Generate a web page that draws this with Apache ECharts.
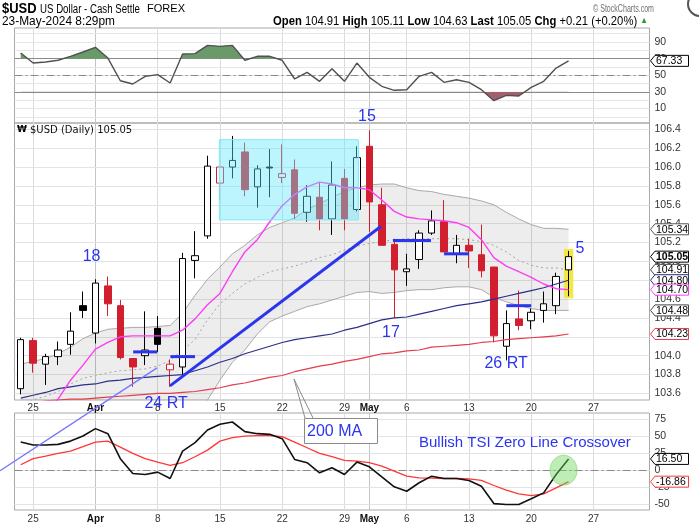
<!DOCTYPE html>
<html><head><meta charset="utf-8">
<script src="https://cdn.jsdelivr.net/npm/echarts@6/dist/echarts.min.js"></script>
<style>html,body{margin:0;padding:0;background:#fff}#c{width:699px;height:526px}</style>
</head><body><div id="c"></div>
<script>
// ---------- DATA ----------
const dates = ['Mar 22','Mar 25','Mar 26','Mar 27','Mar 28','Mar 29','Apr 1','Apr 2','Apr 3','Apr 4','Apr 5','Apr 8','Apr 9','Apr 10','Apr 11','Apr 12','Apr 15','Apr 16','Apr 17','Apr 18','Apr 19','Apr 22','Apr 23','Apr 24','Apr 25','Apr 26','Apr 29','Apr 30','May 1','May 2','May 3','May 6','May 7','May 8','May 9','May 10','May 13','May 14','May 15','May 16','May 17','May 20','May 21','May 22','May 23','May 24','May 27','May 28','May 29','May 30','May 31'];
const labelIdx  = [1,6,11,16,21,26,28,31,36,41,46];
const labelText = ['25','Apr','8','15','22','29','May','6','13','20','27'];
const monthIdx  = [6,28];

const open  = [103.65,104.16,103.91,103.99,104.12,104.53,104.24,104.74,104.53,103.97,104.00,104.29,103.85,103.88,105.01,105.27,105.83,106.00,106.16,105.79,106.00,105.89,105.97,105.52,105.68,105.45,105.88,105.55,106.22,105.60,105.18,104.89,105.02,105.30,105.42,105.08,105.17,105.07,104.94,104.10,104.39,104.37,104.48,104.53,104.91];
const high  = [104.19,104.19,104.02,104.15,104.46,104.68,104.81,104.84,104.59,103.97,104.47,104.42,103.96,105.09,105.32,106.12,106.00,106.33,106.26,106.02,106.19,106.24,106.08,105.81,105.84,106.06,105.98,106.22,106.39,105.78,105.24,105.08,105.33,105.54,105.65,105.28,105.24,105.39,104.94,104.48,104.69,104.50,104.68,104.88,105.11];
const low   = [103.59,103.82,103.69,103.90,104.01,104.40,104.13,104.42,103.96,103.67,103.90,104.04,103.67,103.79,104.82,105.24,105.65,105.88,105.69,105.57,105.68,105.83,105.45,105.42,105.33,105.28,105.33,105.53,105.31,105.17,104.40,104.74,104.92,105.28,105.10,104.98,104.93,104.83,104.14,103.95,104.27,104.28,104.35,104.44,104.63];
const close = [104.17,103.92,103.99,104.06,104.26,104.48,104.77,104.55,103.98,103.88,104.06,104.12,103.91,105.03,105.06,106.01,106.00,106.07,105.76,105.98,105.99,105.93,105.51,105.69,105.45,105.81,105.45,106.10,105.63,105.17,104.91,104.92,105.30,105.43,105.10,105.17,105.11,104.90,104.21,104.34,104.32,104.46,104.55,104.84,105.05];

const bbUpper = [103.91,103.94,103.97,104.02,104.09,104.18,104.24,104.28,104.29,104.30,104.30,104.31,104.32,104.45,104.64,104.81,104.94,105.08,105.17,105.28,105.36,105.41,105.46,105.55,105.61,105.68,105.74,105.78,105.81,105.82,105.82,105.78,105.75,105.74,105.71,105.69,105.67,105.64,105.60,105.52,105.45,105.39,105.35,105.35,105.34];
const bbMid   = [103.48,103.53,103.57,103.62,103.70,103.76,103.79,103.82,103.84,103.85,103.86,103.89,103.95,104.06,104.17,104.38,104.55,104.66,104.76,104.83,104.89,104.92,104.95,104.99,105.04,105.07,105.12,105.16,105.19,105.21,105.23,105.24,105.24,105.24,105.24,105.24,105.23,105.21,105.17,105.10,105.01,104.96,104.93,104.93,104.91];
const bbLower = [103.05,103.12,103.17,103.22,103.31,103.34,103.34,103.36,103.39,103.40,103.42,103.47,103.45,103.40,103.38,103.53,103.74,103.93,104.06,104.23,104.36,104.42,104.47,104.52,104.55,104.59,104.63,104.67,104.68,104.66,104.67,104.69,104.70,104.70,104.72,104.73,104.73,104.70,104.62,104.57,104.53,104.50,104.48,104.48,104.48];
const maShort = [103.12,103.25,103.38,103.54,103.74,103.90,104.07,104.14,104.20,104.21,104.21,104.21,104.21,104.27,104.39,104.54,104.66,104.89,105.10,105.23,105.42,105.59,105.71,105.79,105.84,105.82,105.78,105.78,105.76,105.65,105.53,105.47,105.45,105.44,105.43,105.41,105.36,105.23,105.04,104.95,104.89,104.83,104.76,104.71,104.70];
const ma50  = [103.55,103.58,103.61,103.65,103.67,103.69,103.70,103.73,103.74,103.76,103.77,103.78,103.79,103.80,103.84,103.88,103.93,103.97,104.02,104.06,104.10,104.14,104.17,104.19,104.21,104.23,104.27,104.30,104.34,104.38,104.40,104.41,104.44,104.47,104.50,104.53,104.55,104.57,104.60,104.63,104.66,104.69,104.72,104.76,104.80];
const ma200 = [103.49,103.50,103.52,103.53,103.54,103.54,103.55,103.56,103.57,103.58,103.59,103.60,103.60,103.61,103.62,103.64,103.66,103.69,103.71,103.74,103.77,103.79,103.83,103.86,103.89,103.91,103.94,103.96,103.99,104.02,104.03,104.05,104.06,104.09,104.10,104.11,104.12,104.14,104.15,104.17,104.18,104.19,104.20,104.21,104.23];

const rsi = [76.8,64.7,66,68,72.8,78,83.6,70.7,43.4,39.5,48.7,50.7,40.7,75.6,76,86,84.8,86,68,72.8,72.8,68,45.5,53.5,42.7,57.9,42.7,64.7,47.5,36.7,31.9,32.5,48.7,53.5,41.5,44.6,41.5,32.6,19.4,25.8,25.0,35.5,42.7,58.7,67.33];
const tsi = [41.2,36.8,36.8,37.8,42.6,50,60.9,53.5,16.8,-4.9,-6.3,-2.9,-12.2,27.9,40.3,58.8,67.2,70.6,56.5,53.5,52.5,46.2,15.7,10.9,-3.8,3.5,-6.3,11.8,5,-9.7,-24.4,-30.9,-18.5,-8.8,-12.2,-12.2,-15.1,-23.5,-49,-50.4,-50.4,-42,-33.3,-6.3,16.5];
const tsiSignal = [7.9,16.8,20.6,24.6,27.9,34.4,41.2,42.6,33.8,24.6,16.8,11.8,6.9,10.9,19.7,29.4,42.6,47.6,50,50.6,50.6,49.1,41.2,32.9,24.6,19.7,14.3,13.2,10.9,5.9,-1.5,-8.8,-11.2,-11.7,-12.2,-12.2,-12.7,-15.1,-22.5,-29.4,-34.7,-37.2,-34.7,-25.9,-16.86];

const priceTicks = [103.6,103.8,104.0,104.2,104.4,104.6,104.8,105.0,105.2,105.4,105.6,105.8,106.0,106.2,106.4];
const rsiTicks = [10,30,50,70,90];
const rsiGridTicks = [0,10,20,30,40,50,60,70,80,90,100];
const tsiTicks = [-50,-25,0,25,50,75];

// ---------- STYLE ----------
const FS = "'Liberation Sans',Arial,sans-serif";
const BLUE = '#2b35ee';
const GL = 14.5, GR = 49.5;

const chart = echarts.init(document.getElementById('c'));

function xAx(gi, labels){
  return {type:'category', gridIndex:gi, data:dates, boundaryGap:true,
    axisLine:{show:false}, axisTick:{show:false}, splitLine:{show:false},
    axisLabel: labels ? {show:true, interval:0, margin: gi===1?3:4, color:'#333', fontSize:10, fontFamily:FS,
      formatter:(v,i)=>{const k=labelIdx.indexOf(i); if(k<0) return ''; const t=labelText[k]; return monthIdx.includes(i)?'{b|'+t+'}':t;},
      rich:{b:{fontWeight:'bold', fontSize:10, color:'#111', fontFamily:FS}}} : {show:false}};
}
function yAx(gi, min, max, ticks, fmt){
  return {type:'value', gridIndex:gi, position:'right', min, max, scale:true,
    splitLine:{show:false}, axisLine:{show:false}, axisTick:{show:false},
    axisLabel:{customValues:ticks, formatter:fmt, color:'#333', fontSize:10.5, fontFamily:FS, margin:5}};
}
const nulls = dates.map(()=>null);
function vLines(){
  return labelIdx.map(i=>({xAxis:dates[i], lineStyle:{color: monthIdx.includes(i)?'#c4c4c4':'#dcdcdc', width:1, type:'solid'}}));
}
function host(gi, hLines){
  return {type:'line', xAxisIndex:gi, yAxisIndex:gi, data:nulls, silent:true, symbol:'none', z:0,
    markLine:{silent:true, symbol:['none','none'], label:{show:false}, z:1, animation:false,
      data: vLines().concat(hLines)}};
}
const lineS = (gi, data, color, width, z, extra)=>Object.assign({type:'line', xAxisIndex:gi, yAxisIndex:gi, data, symbol:'none', silent:true, z,
   lineStyle:{color, width}}, extra||{});

function rsiFill(level, above, color){
  return {type:'custom', xAxisIndex:0, yAxisIndex:0, data:[[0, level]], silent:true, z:1,
    renderItem:(params, api)=>{
      const pts = rsi.map((v,i)=>api.coord([i, v]));
      const yL = api.coord([0, level])[1];
      const cs = params.coordSys;
      const poly = pts.concat([[pts[pts.length-1][0], yL],[pts[0][0], yL]]);
      const clip = above ? {x:cs.x, y:cs.y, width:cs.width, height:yL-cs.y}
                         : {x:cs.x, y:yL, width:cs.width, height:cs.y+cs.height-yL};
      return {type:'polygon', shape:{points:poly}, style:{fill:color}, clipPath:{type:'rect', shape:clip}};
    }};
}

const candleData = open.map((o,i)=>{
  const c = close[i], prev = i>0 ? close[i-1] : o;
  const col = c >= prev ? '#000' : '#d21f2f';
  const st = c >= o ? {color:'#fff', color0:'#fff', borderColor:col, borderColor0:col}
                    : {color:col, color0:col, borderColor:col, borderColor0:col};
  return {value:[o, c, low[i], high[i]], itemStyle:st};
});

const series = [
  host(1, priceTicks.map(v=>({yAxis:v, lineStyle:{color:'#e3e3e3', width:1, type:'solid'}}))),
  lineS(1, bbLower, 'rgba(0,0,0,0)', 0, 1, {stack:'bb'}),
  lineS(1, bbUpper.map((u,i)=>+(u-bbLower[i]).toFixed(2)), 'rgba(0,0,0,0)', 0, 1, {stack:'bb', areaStyle:{color:'rgba(0,0,0,0.1)'}}),
  lineS(1, bbUpper, '#a9a9a9', 1, 2),
  lineS(1, bbLower, '#a9a9a9', 1, 2),
  lineS(1, bbMid, '#a5a5a5', 1, 2, {lineStyle:{color:'#a5a5a5', width:1, type:[2,3]}}),
  {type:'candlestick', xAxisIndex:1, yAxisIndex:1, data:candleData, barWidth:7, z:3, silent:true, itemStyle:{borderWidth:1}},
  lineS(1, ma200, '#e33c4d', 1.2, 4),
  lineS(1, ma50, '#2d2d8a', 1.2, 4),
  lineS(1, maShort, '#ff3cf5', 1.4, 4),
  host(0, rsiGridTicks.map(v=>({yAxis:v, lineStyle:{color:'#e6e6e6', width:1, type:'solid'}})).concat([
      {yAxis:70, lineStyle:{color:'#8a8a8a', width:1, type:'solid'}},
      {yAxis:30, lineStyle:{color:'#8a8a8a', width:1, type:'solid'}},
      {yAxis:50, lineStyle:{color:'#8a8a8a', width:1, type:[8,3,2,3]}}])),
  rsiFill(70, true, '#6a9a6a'),
  rsiFill(30, false, '#a2606c'),
  lineS(0, rsi, '#505050', 1.4, 3),
  host(2, tsiTicks.map(v=>({yAxis:v, lineStyle:{color:'#e3e3e3', width:1, type:'solid'}})).concat([
      {yAxis:0, lineStyle:{color:'#8a8a8a', width:1, type:[8,3,2,3]}}])),
  lineS(2, tsiSignal, '#ff3636', 1.3, 3),
  lineS(2, tsi, '#111', 1.6, 4),
];

chart.setOption({
  animation:false,
  backgroundColor:'#fff',
  grid:[
    {left:GL, right:GR, top:28, height:95, show:true, borderColor:'#a8a8a8', borderWidth:1},
    {left:GL, right:GR, top:123, height:277, show:true, borderColor:'#a8a8a8', borderWidth:1},
    {left:GL, right:GR, top:413, height:97, show:true, borderColor:'#a8a8a8', borderWidth:1},
  ],
  xAxis:[xAx(0,false), xAx(1,true), xAx(2,true)],
  yAxis:[
    yAx(0, -7.45, 106.85, rsiTicks, v=>String(v)),
    yAx(1, 103.53, 106.467, priceTicks, v=>v.toFixed(1)),
    yAx(2, -58.4, 83.8, tsiTicks, v=>String(v)),
  ],
  series
});

// ---------- ANNOTATIONS ----------
const X0 = chart.convertToPixel({gridIndex:1},[0,104])[0];
const X50 = chart.convertToPixel({gridIndex:1},[50,104])[0];
const px = i => X0 + (X50-X0)*i/50;
const py = (g,v) => chart.convertToPixel({gridIndex:g},[0,v])[1];
const RX = 699-GR;

const annoSegs = [
  [-1.66,102.78,10.95,103.87,1.5,'#7878ff'],
  [11.99,103.68,28.92,105.37,3,BLUE],
  [9.03,104.04,10.96,104.04,3,BLUE],
  [12.02,103.99,14.0,103.99,3,BLUE],
  [29.9,105.22,32.95,105.22,3,BLUE],
  [34.0,105.08,36.0,105.08,3,BLUE],
  [39.0,104.53,41.0,104.53,3,BLUE],
];
const annoTexts = [['18',5.69,105.05],['24 RT',11.67,103.49],['15',27.81,106.53],['17',29.74,104.24],['26 RT',38.98,103.92],['5',44.92,105.14]];
const cyanBox = [15.95,106.29,27.12,105.44];
const last = close.length-1;

const mctx = document.createElement('canvas').getContext('2d');
const tw = (t,f)=>{mctx.font=f; return mctx.measureText(t).width;};

const G = [];
const txt = (x,y,text,font,fill,align,va,z)=>({type:'text', x, y, z:z||20, silent:true, style:{text, font, fill, align:align||'left', verticalAlign:va||'middle'}});
const fit = (x,y,text,font,fill,w,align)=>Object.assign(txt(x,y,text,font,fill,align), {scaleX: w/tw(text,font)});

G.push({type:'rect', z:2, silent:true, shape:{x:px(last)-4.7, y:py(1,high[last])-2, width:9.4, height:py(1,low[last])-py(1,high[last])+4}, style:{fill:'#f2e743'}});
G.push({type:'rect', z:6, silent:true, shape:{x:px(cyanBox[0]), y:py(1,cyanBox[1]), width:px(cyanBox[2])-px(cyanBox[0]), height:py(1,cyanBox[3])-py(1,cyanBox[1])}, style:{fill:'rgba(95,232,250,0.42)', stroke:'#7ee9f7', lineWidth:1}});
annoSegs.forEach(s=>G.push({type:'line', z:8, silent:true, shape:{x1:px(s[0]), y1:py(1,s[1]), x2:px(s[2]), y2:py(1,s[3])}, style:{stroke:s[5], lineWidth:s[4]}}));
annoTexts.forEach(t=>G.push(txt(px(t[1]), py(1,t[2]), t[0], '16px '+FS, BLUE, 'center', 'middle', 9)));

G.push({type:'polyline', z:9, silent:true, shape:{points:[[305,418],[294,379],[313,418]]}, style:{stroke:'#8a8a8a', fill:null, lineWidth:1}});
G.push({type:'rect', z:9, silent:true, shape:{x:304.5, y:418.5, width:73, height:25}, style:{fill:'#fff', stroke:'#8a8a8a', lineWidth:1}});
G.push(txt(307, 432, '200 MA', '16px '+FS, BLUE, 'left', 'middle', 10));
G.push(txt(419, 443, 'Bullish TSI Zero Line Crossover', '15px '+FS, BLUE, 'left', 'middle', 10));
G.push({type:'ellipse', z:9, silent:true, shape:{cx:px(43.6), cy:py(2,0), rx:13.5, ry:15}, style:{fill:'rgba(110,215,90,0.45)', stroke:'rgba(110,200,90,0.5)', lineWidth:1}});

function tag(y, text, stroke, bold){
  G.push({type:'polygon', z:20, silent:true, shape:{points:[[RX+1,y],[RX+5.5,y-5.5],[RX+39,y-5.5],[RX+39,y+5.5],[RX+5.5,y+5.5]]}, style:{fill:'#fff', stroke, lineWidth:1}});
  G.push(txt(RX+6.5, y+0.5, text, (bold?'bold ':'')+'10.5px '+FS, '#000', 'left', 'middle', 21));
}
tag(py(1,bbUpper[last]), bbUpper[last].toFixed(2), '#555', false);
tag(py(1,close[last]), close[last].toFixed(2), '#000', true);
tag(py(1,bbMid[last]), bbMid[last].toFixed(2), '#444', false);
tag(py(1,ma50[last]), ma50[last].toFixed(2), '#2d2d8a', false);
tag(py(1,maShort[last]), maShort[last].toFixed(2), '#ff3cf5', false);
tag(py(1,bbLower[last]), bbLower[last].toFixed(2), '#444', false);
tag(py(1,ma200[last]), ma200[last].toFixed(2), '#e33c4d', false);
tag(py(0,rsi[last]), rsi[last].toFixed(2), '#000', false);
tag(py(2,tsi[last]), tsi[last].toFixed(2), '#000', false);
tag(py(2,tsiSignal[last]), tsiSignal[last].toFixed(2), '#ff3636', false);

// header (narrow type emulated by horizontal scaling)
const chg = close[last]-close[last-1];
G.push(fit(2, 9, '$USD', 'bold 15px '+FS, '#000', 34.5));
G.push(fit(40, 9.5, 'US Dollar - Cash Settle', '12.5px '+FS, '#000', 100));
G.push(fit(147, 9.5, 'FOREX', '10.5px '+FS, '#000', 38));
G.push(fit(593, 9, '\u00A9 StockCharts.com', '11px '+FS, '#707070', 61));
G.push({type:'circle', z:20, silent:true, shape:{cx:700, cy:4, r:12}, style:{fill:'#fff', stroke:'#555', lineWidth:2}});
G.push(fit(2, 21, '23-May-2024 8:29pm', '13px '+FS, '#000', 113));
const segs = [['Open','b'],[' '+open[last].toFixed(2)+' ',''],['High','b'],[' '+high[last].toFixed(2)+' ',''],['Low','b'],[' '+low[last].toFixed(2)+' ',''],
              ['Last','b'],[' '+close[last].toFixed(2)+' ',''],['Chg','b'],[' +'+chg.toFixed(2)+' (+'+(chg/close[last-1]*100).toFixed(2)+'%) ',''],['\u25B2','g']];
const fB = 'bold 13px '+FS, fR = '13px '+FS, fG = '9px '+FS;
const segW = segs.reduce((a,s)=>a+tw(s[0], s[1]==='b'?fB:(s[1]==='g'?fG:fR)),0);
G.push({type:'text', x:648, y:21, z:20, silent:true, scaleX:375/segW, style:{
  text: segs.map(s=>s[1]?'{'+s[1]+'|'+s[0]+'}':s[0]).join(''),
  font:fR, fill:'#000', align:'right', verticalAlign:'middle',
  rich:{b:{font:fB, fill:'#000'}, g:{font:fG, fill:'#2f9a2f'}}}});
G.push(txt(17, 130, '\u20A9', 'bold 9px DejaVu Sans', '#000'));
G.push(txt(30, 130, '$USD (Daily) '+close[last].toFixed(2), '10px DejaVu Sans', '#111'));

chart.setOption({graphic:{elements:G}});
</script></body></html>
